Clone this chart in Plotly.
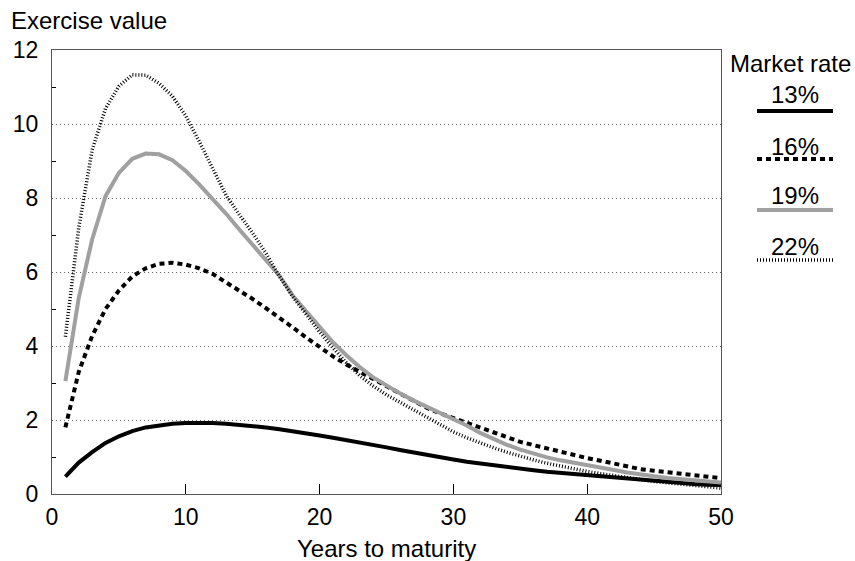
import plotly.graph_objects as go

# Years to maturity
years = list(range(1, 51))

# Exercise value for each market rate
rate_13 = [0.47, 0.85, 1.13, 1.38, 1.56, 1.70, 1.80, 1.86, 1.90, 1.92,
           1.93, 1.92, 1.90, 1.87, 1.84, 1.80, 1.75, 1.70, 1.64, 1.58,
           1.52, 1.46, 1.40, 1.33, 1.26, 1.19, 1.12, 1.05, 0.99, 0.93,
           0.87, 0.82, 0.77, 0.72, 0.68, 0.64, 0.60, 0.57, 0.53, 0.50,
           0.47, 0.43, 0.40, 0.37, 0.34, 0.31, 0.29, 0.27, 0.25, 0.24]
rate_16 = [1.80, 3.30, 4.27, 5.00, 5.50, 5.88, 6.10, 6.22, 6.25, 6.20,
           6.10, 5.95, 5.72, 5.50, 5.27, 5.02, 4.77, 4.50, 4.23, 3.97,
           3.72, 3.50, 3.30, 3.10, 2.90, 2.70, 2.50, 2.33, 2.18, 2.05,
           1.92, 1.79, 1.66, 1.53, 1.41, 1.32, 1.23, 1.13, 1.04, 0.97,
           0.90, 0.82, 0.74, 0.67, 0.63, 0.59, 0.54, 0.50, 0.46, 0.43]
rate_19 = [3.05, 5.30, 6.88, 8.05, 8.68, 9.06, 9.20, 9.18, 9.02, 8.73,
           8.37, 7.98, 7.58, 7.15, 6.72, 6.32, 5.90, 5.36, 4.93, 4.50,
           4.10, 3.75, 3.43, 3.15, 2.93, 2.72, 2.53, 2.36, 2.20, 2.04,
           1.85, 1.65, 1.48, 1.33, 1.20, 1.09, 0.99, 0.91, 0.85, 0.78,
           0.71, 0.65, 0.58, 0.52, 0.48, 0.43, 0.40, 0.36, 0.33, 0.31]
rate_22 = [4.25, 7.20, 9.30, 10.42, 11.02, 11.33, 11.32, 11.10, 10.75, 10.22,
           9.53, 8.80, 8.08, 7.55, 7.05, 6.50, 5.88, 5.33, 4.85, 4.38,
           3.95, 3.55, 3.20, 2.92, 2.68, 2.48, 2.28, 2.08, 1.87, 1.68,
           1.52, 1.38, 1.25, 1.13, 1.02, 0.92, 0.83, 0.75, 0.68, 0.61,
           0.55, 0.49, 0.43, 0.39, 0.34, 0.30, 0.26, 0.22, 0.19, 0.16]

rate_labels = ["13%", "16%", "19%", "22%"]
series = [rate_13, rate_16, rate_19, rate_22]
styles = [
    dict(color="black", width=4, dash="solid"),
    dict(color="black", width=4, dash="5px,4px"),
    dict(color="#a0a0a0", width=4, dash="solid"),
    dict(color="black", width=3.5, dash="1px,2px"),
]

FONT = "Liberation Sans, Arial, sans-serif"
TEXT_SIZE = 24
TICK_SIZE = 23

fig = go.Figure()
for label, values, style in zip(rate_labels, series, styles):
    fig.add_trace(go.Scatter(x=years, y=values, mode="lines", name=label,
                             line=style, showlegend=False))

# plot-area geometry in pixels, used to place the legend block
W, H = 855, 561
L, R, T, B = 52, 134, 50, 67
pw, ph = W - L - R, H - T - B


def px_x(x):
    return (x - L) / pw


def px_y(y):
    return (H - B - y) / ph


def note(text, x, y, anchor="center"):
    return dict(text=text, xref="paper", yref="paper", x=px_x(x), y=px_y(y),
                xanchor=anchor, yanchor="middle", showarrow=False,
                font=dict(size=TEXT_SIZE))


annotations = [
    note("Exercise value", 9, 20, "left"),
    note("Years to maturity", 386, 548),
    note("Market rate", 790, 63),
]
shapes = []
text_y = [95, 146, 195, 246]
line_y = [111, 159, 210, 260]
for label, style, ty, ly in zip(rate_labels, styles, text_y, line_y):
    annotations.append(note(label, 795, ty))
    shapes.append(dict(type="line", xref="paper", yref="paper",
                       x0=px_x(757), x1=px_x(833), y0=px_y(ly), y1=px_y(ly),
                       line=style))

fig.update_layout(
    width=W, height=H,
    margin=dict(l=L, r=R, t=T, b=B),
    paper_bgcolor="white", plot_bgcolor="white",
    font=dict(family=FONT, size=TEXT_SIZE, color="black"),
    annotations=annotations,
    shapes=shapes,
    xaxis=dict(
        range=[0, 50], dtick=10, tick0=0,
        ticks="inside", ticklen=10, tickcolor="black", tickwidth=1,
        showgrid=False, zeroline=False,
        showline=True, linecolor="#555", linewidth=1, mirror=True,
        tickfont=dict(size=TICK_SIZE), ticklabelstandoff=2,
    ),
    yaxis=dict(
        range=[0, 12], dtick=2, tick0=0,
        ticks="", showgrid=True, gridcolor="#666", griddash="1px,3px",
        gridwidth=1, zeroline=False,
        showline=True, linecolor="#555", linewidth=1, mirror=True,
        tickfont=dict(size=TICK_SIZE), ticklabelstandoff=8,
        minor=dict(dtick=1, ticks="inside", ticklen=4, tickcolor="black",
                   showgrid=False),
    ),
)

fig.write_html("out.html")
